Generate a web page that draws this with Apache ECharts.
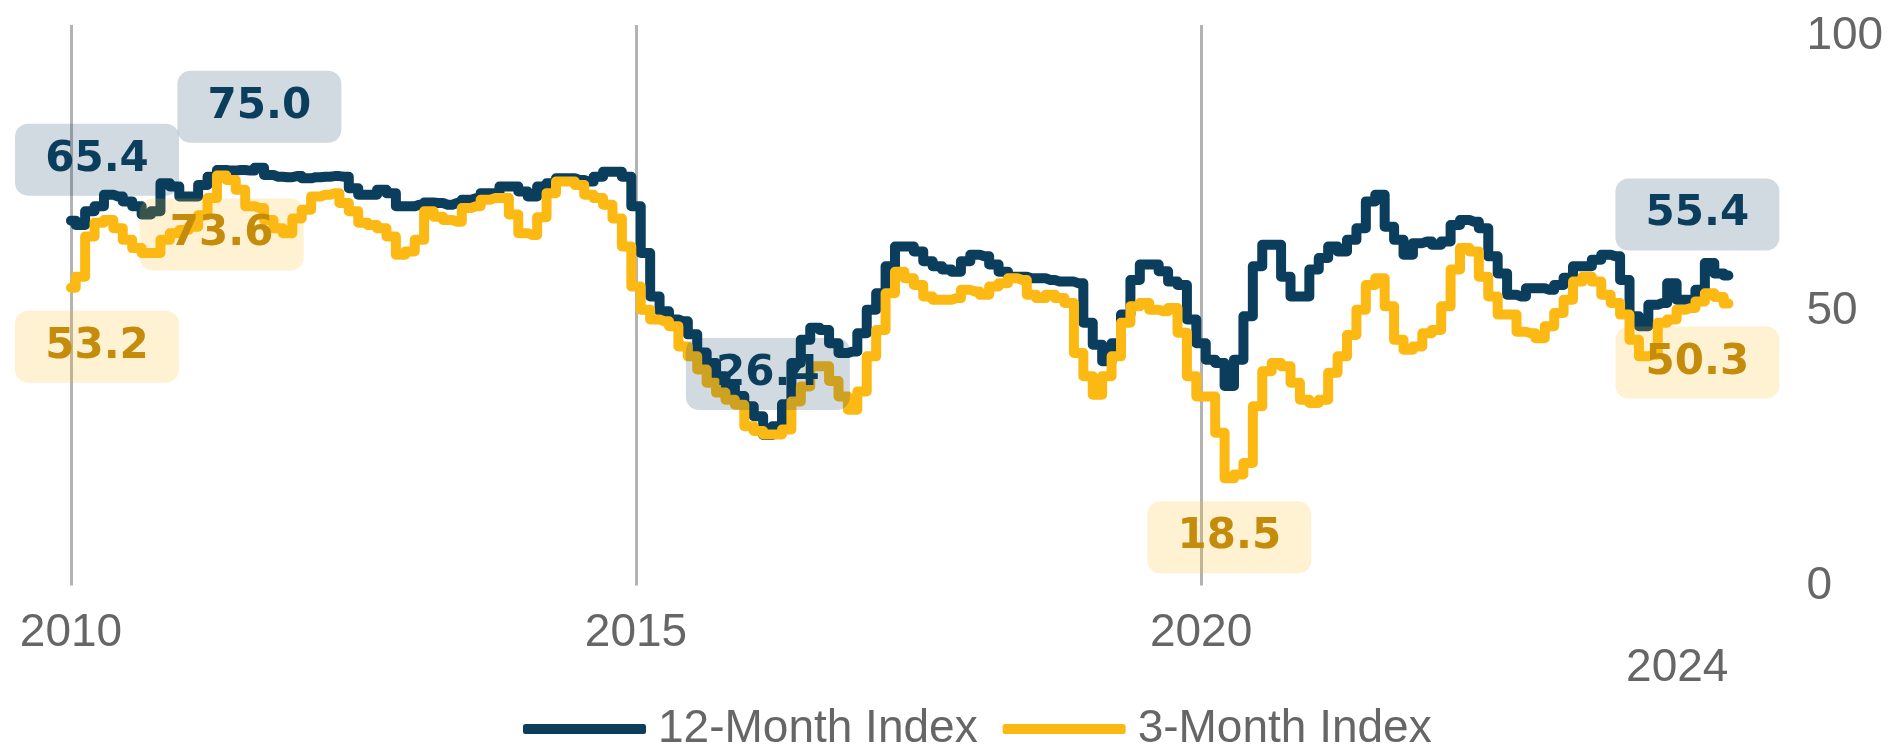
<!DOCTYPE html>
<html>
<head>
<meta charset="utf-8">
<script src="https://cdn.jsdelivr.net/npm/echarts@6/dist/echarts.min.js"></script>
<style>
  html, body { margin: 0; padding: 0; background: #ffffff; }
  #chart { width: 1897px; height: 751px; }
</style>
</head>
<body>
<div id="chart"></div>
<script>
// Monthly categories, January 2010 through September 2024
const months = [];
for (let k = 0; k < 177; k++) {
  const yr = 2010 + Math.floor(k / 12);
  const mo = (k % 12) + 1;
  months.push(yr + '-' + String(mo).padStart(2, '0'));
}

// 12-month index, one value per month
const index12 = [
  65.4, 64.6, 67.1, 68.0, 70.1, 69.8, 68.9, 68.0, 66.5, 67.1, 72.2, 71.6,
  69.8, 69.8, 71.9, 73.4, 74.6, 74.5, 74.6, 74.5, 75.0, 73.7, 73.4, 73.3,
  73.5, 73.1, 73.3, 73.4, 73.5, 73.4, 71.3, 70.1, 70.1, 71.0, 70.4, 68.0,
  68.0, 68.3, 68.7, 68.6, 68.3, 68.6, 69.2, 69.5, 70.4, 70.4, 71.6, 71.6,
  70.7, 69.8, 71.6, 72.2, 73.1, 73.1, 72.8, 72.5, 73.4, 74.3, 74.3, 73.4,
  68.0, 59.5, 51.6, 48.9, 47.4, 47.1, 44.7, 41.4, 39.5, 37.1, 35.3, 33.5,
  31.6, 29.8, 26.4, 28.0, 32.0, 39.5, 43.7, 45.9, 45.5, 43.1, 41.3, 41.6,
  44.9, 49.2, 52.2, 57.1, 60.7, 60.7, 59.8, 58.0, 57.1, 56.5, 56.1, 58.0,
  59.2, 58.9, 57.4, 56.1, 55.2, 55.2, 54.9, 54.9, 54.6, 54.3, 54.3, 54.0,
  46.8, 42.8, 39.8, 43.1, 48.3, 54.6, 57.4, 57.4, 56.2, 54.3, 53.7, 47.4,
  43.1, 40.1, 39.5, 35.3, 40.1, 48.0, 57.1, 61.0, 61.0, 55.2, 51.6, 51.6,
  56.5, 58.6, 60.7, 59.8, 61.9, 64.0, 68.9, 70.1, 64.3, 61.9, 59.2, 61.3,
  61.6, 61.0, 61.6, 64.6, 65.5, 65.2, 64.0, 58.9, 55.8, 51.9, 51.6, 53.1,
  53.1, 52.8, 53.7, 55.0, 57.1, 57.1, 58.3, 59.2, 58.9, 54.6, 48.0, 46.2,
  50.1, 50.4, 54.0, 51.0, 51.0, 52.8, 57.7, 55.8, 55.4
];

// 3-month index, one value per month
const index3 = [
  53.2, 55.2, 62.5, 65.0, 65.5, 64.0, 61.9, 60.4, 59.5, 59.5, 61.9, 63.1,
  63.7, 64.3, 66.4, 69.5, 73.6, 72.8, 71.0, 68.0, 67.7, 65.5, 64.0, 63.1,
  65.8, 67.4, 69.8, 70.1, 70.4, 68.6, 67.1, 65.0, 64.6, 64.0, 62.5, 59.2,
  59.8, 61.9, 67.1, 66.1, 65.5, 65.2, 67.7, 68.0, 69.2, 69.5, 69.5, 66.5,
  63.1, 62.8, 66.0, 70.4, 72.5, 72.5, 71.9, 70.1, 69.5, 68.3, 65.8, 60.7,
  53.4, 49.2, 47.4, 47.1, 46.2, 42.5, 40.7, 38.3, 35.9, 34.1, 32.8, 31.9,
  28.0, 27.1, 26.5, 26.5, 27.4, 32.5, 35.2, 38.9, 38.9, 36.2, 33.4, 31.0,
  34.3, 40.7, 45.5, 52.2, 56.1, 54.9, 53.7, 51.6, 51.0, 51.0, 51.3, 52.8,
  52.5, 51.9, 53.4, 54.0, 54.9, 54.6, 51.9, 51.3, 51.9, 51.3, 50.4, 41.3,
  37.1, 33.7, 37.1, 40.7, 46.8, 49.8, 50.4, 49.2, 48.9, 49.5, 45.0, 37.1,
  33.4, 33.4, 26.8, 18.5, 19.2, 21.3, 31.6, 38.0, 39.5, 38.9, 35.9, 32.8,
  32.2, 32.8, 37.7, 40.7, 44.6, 49.2, 53.7, 54.9, 49.8, 43.7, 41.9, 42.5,
  44.9, 45.5, 49.8, 56.5, 60.4, 59.8, 55.2, 51.6, 48.3, 48.3, 45.2, 44.9,
  44.0, 46.2, 48.6, 51.0, 54.3, 55.2, 54.3, 51.9, 50.4, 48.3, 43.7, 40.7,
  41.0, 46.8, 47.4, 49.2, 49.5, 50.7, 52.2, 51.5, 50.3
];

// Axis tick labels
const yearTicks = ['2010', '2015', '2020'];
const yTicks = [0, 50, 100];

const NAVY = '#0b3d5c';
const GOLD = '#fdb913';
const AXIS_FONT = '"Liberation Sans", "DejaVu Sans", sans-serif';
const LABEL_FONT = '"DejaVu Sans", sans-serif';
const AXIS_SIZE = 46;

const lastIdx = months.length - 1;
const isYearTick = (i) => months[i].endsWith('-01') && yearTicks.includes(months[i].slice(0, 4));

// first / highest / lowest / latest points of a series, each with its label offset
function keyPoints(values, dy, edgeShift) {
  const maxV = Math.max(...values);
  const minV = Math.min(...values);
  const picks = [
    { i: 0, dx: edgeShift[0] },
    { i: values.indexOf(maxV), dx: 0 },
    { i: values.indexOf(minV), dx: 0 },
    { i: lastIdx, dx: edgeShift[1] }
  ];
  return picks.map(p => ({
    coord: [p.i, values[p.i]],
    value: values[p.i],
    label: { offset: [p.dx, dy] }
  }));
}

function labelStyle(textColor, boxColor) {
  return {
    show: true,
    position: 'inside',
    formatter: (p) => Number(p.value).toFixed(1),
    fontFamily: LABEL_FONT,
    fontWeight: 'bold',
    fontSize: 42,
    lineHeight: 44,
    color: textColor,
    backgroundColor: boxColor,
    borderRadius: 13,
    padding: [14, 33, 14, 33],
    width: 98,
    align: 'center'
  };
}

const chart = echarts.init(document.getElementById('chart'), null, { renderer: 'canvas' });

chart.setOption({
  animation: false,
  backgroundColor: '#ffffff',
  grid: {
    left: 71,
    right: 168.6,
    top: 25,
    bottom: 165.5,
    containLabel: false,
    outerBoundsMode: 'none'
  },
  legend: {
    bottom: -6,
    left: 518,
    icon: 'roundRect',
    itemWidth: 123,
    itemHeight: 10,
    itemGap: 25,
    textStyle: {
      fontFamily: AXIS_FONT,
      fontSize: AXIS_SIZE,
      color: '#666666',
      padding: [0, 0, 0, 7]
    },
    data: ['12-Month Index', '3-Month Index']
  },
  xAxis: [
    {
      type: 'category',
      data: months,
      boundaryGap: false,
      axisLine: { show: false },
      axisTick: { show: false },
      axisLabel: {
        interval: (i) => isYearTick(i),
        formatter: (v) => v.slice(0, 4),
        fontFamily: AXIS_FONT,
        fontSize: AXIS_SIZE,
        color: '#666666',
        margin: 25
      },
      splitLine: {
        show: true,
        interval: (i) => isYearTick(i),
        lineStyle: { color: '#b3b3b3', width: 3 }
      }
    },
    {
      type: 'category',
      data: months,
      boundaryGap: false,
      position: 'bottom',
      offset: 35,
      axisLine: { show: false },
      axisTick: { show: false },
      splitLine: { show: false },
      axisLabel: {
        interval: (i) => i === lastIdx,
        formatter: (v) => v.slice(0, 4),
        align: 'right',
        fontFamily: AXIS_FONT,
        fontSize: AXIS_SIZE,
        color: '#666666',
        margin: 25
      }
    }
  ],
  yAxis: {
    type: 'value',
    position: 'right',
    min: -1,
    max: 101,
    axisLine: { show: false },
    axisTick: { show: false },
    splitLine: { show: false },
    axisLabel: {
      customValues: yTicks,
      fontFamily: AXIS_FONT,
      fontSize: AXIS_SIZE,
      color: '#666666',
      align: 'left',
      verticalAlign: 'top',
      lineHeight: 12,
      margin: 78
    }
  },
  series: [
    {
      name: '12-Month Index',
      type: 'line',
      step: 'middle',
      data: index12,
      symbol: 'none',
      showSymbol: false,
      itemStyle: { color: NAVY },
      lineStyle: { color: NAVY, width: 10, cap: 'round', join: 'round' },
      z: 2,
      markPoint: {
        symbol: 'circle',
        symbolSize: 0,
        z: 5,
        label: labelStyle(NAVY, 'rgba(11,61,92,0.19)'),
        data: keyPoints(index12, -61, [26, -31])
      }
    },
    {
      name: '3-Month Index',
      type: 'line',
      step: 'middle',
      data: index3,
      symbol: 'none',
      showSymbol: false,
      itemStyle: { color: GOLD },
      lineStyle: { color: GOLD, width: 10, cap: 'round', join: 'round' },
      z: 3,
      markPoint: {
        symbol: 'circle',
        symbolSize: 0,
        z: 5,
        label: labelStyle('#c48c0a', 'rgba(253,185,19,0.19)'),
        data: keyPoints(index3, 59, [26, -31])
      }
    }
  ]
});
</script>
</body>
</html>
